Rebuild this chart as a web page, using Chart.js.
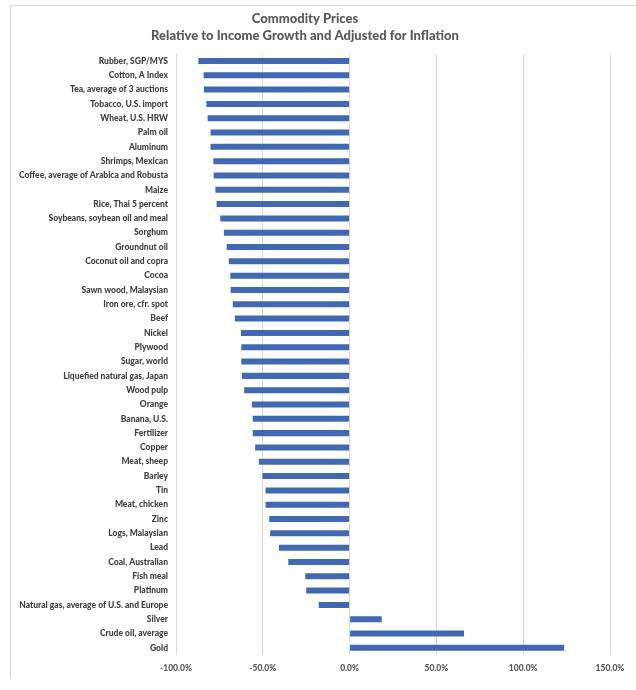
<!DOCTYPE html>
<html>
<head>
<meta charset="utf-8">
<script src="https://cdn.jsdelivr.net/npm/chart.js@4"></script>
<style>
  body { margin: 0; background: #fff; }
  #wrap { position: relative; width: 636px; height: 690px; }
  #frame { position: absolute; left: 10px; top: 5px; right: -2px; bottom: 12px;
           border-left: 1px solid #d9d9d9; border-top: 1px solid #d9d9d9; pointer-events: none; }
</style>
</head>
<body>
<div id="wrap">
  <canvas id="prices"></canvas>
  <div id="frame"></div>
</div>
<script>
const commodities = [
  'Rubber, SGP/MYS', 'Cotton, A Index', 'Tea, average of 3 auctions', 'Tobacco, U.S. import',
  'Wheat, U.S. HRW', 'Palm oil', 'Aluminum', 'Shrimps, Mexican',
  'Coffee, average of Arabica and Robusta', 'Maize', 'Rice, Thai 5 percent',
  'Soybeans, soybean oil and meal', 'Sorghum', 'Groundnut oil', 'Coconut oil and copra',
  'Cocoa', 'Sawn wood, Malaysian', 'Iron ore, cfr. spot', 'Beef', 'Nickel', 'Plywood',
  'Sugar, world', 'Liquefied natural gas, Japan', 'Wood pulp', 'Orange', 'Banana, U.S.',
  'Fertilizer', 'Copper', 'Meat, sheep', 'Barley', 'Tin', 'Meat, chicken', 'Zinc',
  'Logs, Malaysian', 'Lead', 'Coal, Australian', 'Fish meal', 'Platinum',
  'Natural gas, average of U.S. and Europe', 'Silver', 'Crude oil, average', 'Gold'
];
// percent change
const priceChange = [
  -87.1, -84.1, -83.9, -82.5,
  -81.8, -80.1, -80.1, -78.5,
  -78.3, -77.3, -76.6,
  -74.5, -72.4, -70.8, -69.6,
  -68.7, -68.5, -67.3, -66.1, -62.6, -62.4,
  -62.4, -62.1, -60.7, -56.3, -55.8,
  -55.8, -54.4, -52.3, -50.2, -48.4, -48.4, -46.3,
  -45.8, -40.7, -35.3, -25.5, -25.0,
  -17.8, 18.5, 65.9, 123.6
];
const xTicks = [-100, -50, 0, 50, 100, 150];

const face = "Lato, 'DejaVu Sans Condensed', sans-serif";

new Chart('prices', {
    type: 'bar',
    data: {
        labels: commodities,
        datasets: [{
            data: priceChange,
            backgroundColor: '#4169B2',
            barPercentage: 0.42,
            categoryPercentage: 1
        }]
    },
    options: {
        indexAxis: 'y',
        responsive: true,
        maintainAspectRatio: false,
        animation: false,
        layout: { padding: { left: 0, right: 26, top: 0, bottom: 0 } },
        plugins: {
            legend: { display: false },
            tooltip: { enabled: false },
            title: {
                display: true,
                text: ['Commodity Prices', 'Relative to Income Growth and Adjusted for Inflation'],
                color: '#595959',
                font: { family: face, size: 13, weight: 900, lineHeight: 1.3 },
                padding: { top: 10, bottom: 10 }
            }
        },
        scales: {
            x: {
                min: -100,
                max: 150,
                afterBuildTicks: (scale) => { scale.ticks = xTicks.map(v => ({ value: v })); },
                afterFit: (scale) => { scale.height = 35; },
                grid: { color: '#d9d9d9', drawTicks: false },
                border: { display: false },
                ticks: {
                    padding: 8,
                    color: '#595959',
                    font: { family: face, size: 8.5, weight: 900 },
                    callback: (v) => v.toFixed(1) + '%'
                }
            },
            y: {
                afterFit: (scale) => { scale.width = 176; },
                grid: { display: false, drawTicks: false },
                border: { display: false },
                ticks: {
                    padding: 8,
                    autoSkip: false,
                    color: '#404040',
                    font: { family: face, size: 8.5, weight: 900 }
                }
            }
        }
    }
});
</script>
</body>
</html>
